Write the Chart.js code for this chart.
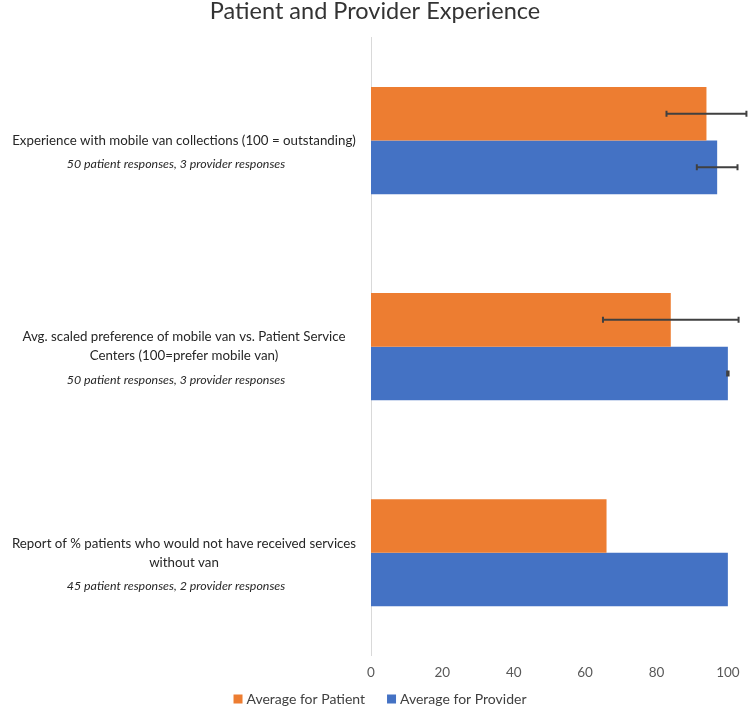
<!DOCTYPE html>
<html>
<head>
<meta charset="utf-8">
<script src="https://cdn.jsdelivr.net/npm/chart.js@4.4.0/dist/chart.umd.min.js"></script>
<style>
  html, body { margin: 0; padding: 0; background: #ffffff; }
  #wrap { width: 750px; height: 709px; position: relative; }
</style>
</head>
<body>
<div id="wrap"><canvas id="c" width="750" height="709"></canvas></div>
<script>
// ---- data ----
const categories = [
  "Experience with mobile van collections",
  "Avg. scaled preference of mobile van vs. Patient Service Centers",
  "Report of % patients who would not have received services without van"
];
const categoryLines = [
  ["Experience with mobile van collections (100 = outstanding)"],
  ["Avg. scaled preference of mobile van vs. Patient Service", "Centers (100=prefer mobile van)"],
  ["Report of % patients who would not have received services", "without van"]
];
const categoryNotes = [
  "50 patient responses, 3 provider responses",
  "50 patient responses, 3 provider responses",
  "45 patient responses, 2 provider responses"
];
const seriesNames = ["Average for Patient", "Average for Provider"];
const patientValues = [94, 84, 66];
const providerValues = [97, 100, 100];
const patientErrors = [11.2, 19, null];
const providerErrors = [5.7, 0.2, null];
const xTicks = [0, 20, 40, 60, 80, 100];
const xMin = 0;
const xMax = 106.2;

const FONT = "Lato, 'Open Sans', sans-serif";

const errorBarPlugin = {
  id: 'errorBars',
  afterDatasetsDraw(chart) {
    const ctx = chart.ctx;
    const xs = chart.scales.x;
    const errs = [patientErrors, providerErrors];
    chart.data.datasets.forEach((ds, di) => {
      const meta = chart.getDatasetMeta(di);
      meta.data.forEach((bar, i) => {
        const e = errs[di][i];
        if (e == null) return;
        const v = ds.data[i];
        const x1 = xs.getPixelForValue(v - e);
        const x2 = xs.getPixelForValue(v + e);
        const y = bar.y;
        ctx.save();
        ctx.strokeStyle = '#404040';
        ctx.lineWidth = 2;
        ctx.beginPath();
        ctx.moveTo(x1, y); ctx.lineTo(x2, y);
        ctx.moveTo(x1, y - 3); ctx.lineTo(x1, y + 3);
        ctx.moveTo(x2, y - 3); ctx.lineTo(x2, y + 3);
        ctx.stroke();
        ctx.restore();
      });
    });
  }
};

const catLabelPlugin = {
  id: 'catLabels',
  afterDraw(chart) {
    const ctx = chart.ctx;
    const ys = chart.scales.y;
    ctx.save();
    ctx.textAlign = 'center';
    ctx.textBaseline = 'middle';
    ctx.fillStyle = '#262626';
    categories.forEach((c, i) => {
      const cy = ys.getPixelForValue(i);
      const lines = categoryLines[i];
      const n = lines.length;
      const step = 19;
      ctx.font = "13.3px " + FONT;
      lines.forEach((ln, k) => {
        ctx.fillText(ln, 184, cy + (k - (n - 1) / 2) * step);
      });
      ctx.font = "italic 12.4px " + FONT;
      ctx.fillText(categoryNotes[i], 176, cy + ((n - 1) / 2) * step + 23.5);
    });
    ctx.restore();
  }
};

// legend drawn Excel-style (box, small gap, text, wide gap between items)
const legendPlugin = {
  id: 'excelLegend',
  afterDraw(chart) {
    const ctx = chart.ctx;
    ctx.save();
    ctx.font = "14px " + FONT;
    ctx.textBaseline = 'middle';
    ctx.textAlign = 'left';
    const box = 9, gapBox = 4, gapItem = 22;
    const dsets = chart.data.datasets;
    const widths = dsets.map(d => ctx.measureText(d.label).width);
    let total = 0;
    widths.forEach((w, i) => { total += box + gapBox + w + (i < widths.length - 1 ? gapItem : 0); });
    let x = 380 - total / 2;
    const cy = 699;
    dsets.forEach((d, i) => {
      ctx.fillStyle = d.backgroundColor;
      ctx.fillRect(x, cy - box / 2, box, box);
      ctx.fillStyle = '#404040';
      ctx.fillText(d.label, x + box + gapBox, cy);
      x += box + gapBox + widths[i] + gapItem;
    });
    ctx.restore();
  }
};

new Chart(document.getElementById('c'), {
  type: 'bar',
  data: {
    labels: categories,
    datasets: [
      { label: seriesNames[0], data: patientValues, backgroundColor: '#ED7D31', borderWidth: 0 },
      { label: seriesNames[1], data: providerValues, backgroundColor: '#4472C4', borderWidth: 0 }
    ]
  },
  options: {
    indexAxis: 'y',
    responsive: false,
    animation: false,
    layout: { padding: { right: 0, top: 0, bottom: 19, left: 0 } },
    datasets: { bar: { barPercentage: 1.0, categoryPercentage: 0.52 } },
    scales: {
      x: {
        min: xMin, max: xMax,
        grid: { display: false, drawTicks: false },
        border: { display: false },
        afterBuildTicks(scale) { scale.ticks = xTicks.map(v => ({ value: v })); },
        ticks: { color: '#595959', font: { family: FONT, size: 13.5 }, padding: 9 }
      },
      y: {
        grid: { display: false, drawTicks: false },
        border: { display: true, color: '#d9d9d9', width: 1 },
        ticks: { display: false },
        afterFit(scale) { scale.width = 371; }
      }
    },
    plugins: {
      title: {
        display: true,
        text: 'Patient and Provider Experience',
        color: '#333333',
        font: { family: FONT, size: 23.5, weight: '400', lineHeight: 1.0 },
        padding: { top: 0, bottom: 14 }
      },
      legend: { display: false },
      tooltip: { enabled: false }
    }
  },
  plugins: [errorBarPlugin, catLabelPlugin, legendPlugin]
});
</script>
</body>
</html>
